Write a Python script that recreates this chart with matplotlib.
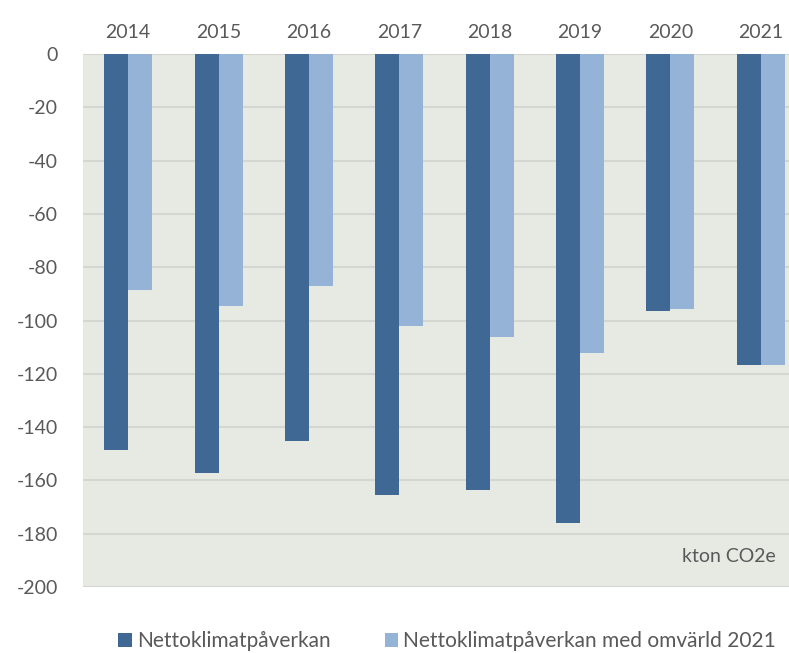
import numpy as np
from matplotlib import pyplot as plt

YEARS = ["2014", "2015", "2016", "2017", "2018", "2019", "2020", "2021"]
NETTO = [-148.5, -157.2, -145.2, -165.5, -163.6, -176.0, -96.4, -116.7]
NETTO_OMV = [-88.5, -94.6, -87.1, -102.1, -106.2, -112.2, -95.7, -116.7]

DARK = "#3F6894"
LIGHT = "#95B3D7"
BG = "#E7E9E3"
TXT = "#595959"

plt.rcParams["font.family"] = ["Lato", "DejaVu Sans"]
plt.rcParams["axes.unicode_minus"] = False

fig = plt.figure(figsize=(7.89, 6.53), dpi=100)
ax = fig.add_axes([83 / 789, 1 - 587 / 653, (806 - 83) / 789, (587 - 54) / 653])
ax.set_facecolor(BG)

x = np.arange(len(YEARS))
w = 0.265
ax.bar(x - w / 2, NETTO, w, color=DARK, label="Nettoklimatpåverkan", zorder=3)
ax.bar(x + w / 2, NETTO_OMV, w, color=LIGHT, label="Nettoklimatpåverkan med omvärld 2021", zorder=3)

ax.set_xlim(-0.5, len(YEARS) - 0.5)
ax.set_ylim(-200, 0)
ax.set_yticks(np.arange(-200, 1, 20))
ax.yaxis.grid(True, color="#D4D6D2", linewidth=1.5, zorder=0)
ax.xaxis.tick_top()
ax.set_xticks(x)
ax.set_xticklabels(YEARS)
ax.tick_params(axis="both", length=0, labelsize=14, colors=TXT)
ax.tick_params(axis="x", pad=9)
ax.tick_params(axis="y", pad=18)
for s in ax.spines.values():
    s.set_visible(False)

fig.text(776 / 789, 1 - 557 / 653, "kton CO2e", ha="right", va="center",
         fontsize=14, color=TXT)

leg = fig.legend(loc="center", bbox_to_anchor=(447 / 789, 1 - 641 / 653), ncol=2, frameon=False,
                 fontsize=15, handlelength=0.65, handleheight=0.65, handletextpad=0.25,
                 columnspacing=2.6, labelcolor=TXT)

fig.savefig("out.png", dpi=100)
